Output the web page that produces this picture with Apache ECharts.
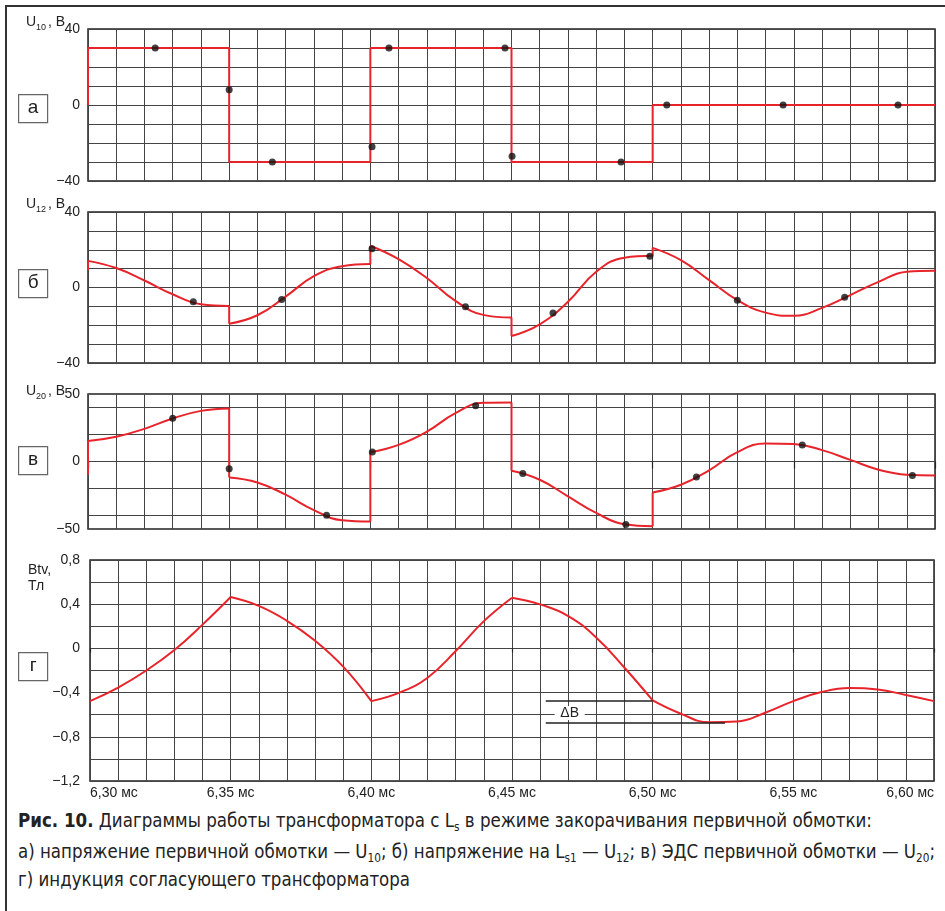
<!DOCTYPE html>
<html>
<head>
<meta charset="utf-8">
<script src="https://cdn.jsdelivr.net/npm/echarts@6/dist/echarts.min.js"></script>
<style>
html, body { margin: 0; padding: 0; background: #fff; }
#wrap { position: relative; width: 945px; height: 911px; overflow: hidden; }
#frame { position: absolute; left: 5px; top: 5px; width: 1000px; height: 1000px; border-left: 2px solid #333; border-top: 2px solid #333; }
#chart { position: absolute; left: 0; top: 0; width: 945px; height: 805px; }
.cap { position: absolute; left: 18px; white-space: nowrap; font-family: "Liberation Sans Narrow", "DejaVu Sans Condensed", sans-serif; font-size: 19px; line-height: 24px; color: #222; transform-origin: 0 50%; }
.cap b { font-weight: bold; }
.cap sub { font-size: 12px; vertical-align: -4px; line-height: 0; }
</style>
</head>
<body>
<div id="wrap">
  <div id="frame"></div>
  <div id="chart"></div>
  <div class="cap" data-w="854" style="top:808px"><b>Рис. 10.</b> Диаграммы работы трансформатора с L<sub>s</sub> в режиме закорачивания первичной обмотки:</div>
  <div class="cap" data-w="917" style="top:839px">а) напряжение первичной обмотки — U<sub>10</sub>; б) напряжение на L<sub>s1</sub> — U<sub>12</sub>; в) ЭДС первичной обмотки — U<sub>20</sub>;</div>
  <div class="cap" style="top:867px">г) индукция согласующего трансформатора</div>
</div>
<script>
// --- данные (время в мс) ---
const u10Line = [[6.30, 0], [6.30, 30], [6.35, 30], [6.35, -30], [6.40, -30], [6.40, 30],
  [6.45, 30], [6.45, -30], [6.50, -30], [6.50, 0], [6.60, 0]];
const u10Dots = [[6.3238, 30], [6.35, 8], [6.3653, -30], [6.4006, -22], [6.4066, 30], [6.4477, 30],
  [6.4502, -27], [6.4888, -30], [6.505, 0], [6.5462, 0], [6.5869, 0]];

const u12Segments = [
  [[6.30, 9.2]],
  [[6.30, 14.1], [6.31, 10.3], [6.32, 3.7], [6.33, -3.6], [6.34, -8.9], [6.35, -9.8]],
  [[6.35, -19.2], [6.36, -14.7], [6.37, -4.8], [6.38, 6], [6.39, 11.3], [6.40, 12.4]],
  [[6.40, 22.1], [6.41, 15], [6.42, 5], [6.43, -7], [6.44, -14.5], [6.45, -15.9]],
  [[6.45, -25.7], [6.46, -19.5], [6.47, -7.6], [6.48, 8.3], [6.49, 15.8], [6.50, 16.8]],
  [[6.50, 21], [6.51, 14.5], [6.52, 3.9], [6.53, -6.7], [6.54, -13.3], [6.55, -15], [6.56, -10.8],
    [6.57, -4], [6.58, 3], [6.59, 8.4], [6.60, 8.9]]
];
const u12Dots = [[6.3373, -7.6], [6.3686, -6.4], [6.4006, 20.5], [6.4337, -10.2], [6.4647, -13.5],
  [6.499, 16.6], [6.53, -6.7], [6.568, -5.1]];

const u20Segments = [
  [[6.30, -9.8]],
  [[6.30, 15.2], [6.31, 18.4], [6.32, 24.2], [6.33, 31.9], [6.34, 37.5], [6.35, 39.3]],
  [[6.35, -11.8], [6.36, -15.5], [6.37, -24.6], [6.38, -36], [6.39, -43.5], [6.40, -44.4]],
  [[6.40, 6.8], [6.41, 12.3], [6.42, 22.1], [6.43, 35.6], [6.44, 43.5], [6.45, 43.7]],
  [[6.45, -6.9], [6.46, -13.5], [6.47, -25.8], [6.48, -38.1], [6.49, -46.5], [6.50, -47.9]],
  [[6.50, -22.9], [6.51, -17.2], [6.52, -6.5], [6.53, 7], [6.54, 13.3], [6.55, 12.9], [6.56, 8.4],
    [6.57, 1.2], [6.58, -6.1], [6.59, -9.8], [6.60, -10.3]]
];
const u20Dots = [[6.33, 32], [6.35, -5.4], [6.3845, -39.8], [6.4007, 7.1], [6.4373, 41.3], [6.454, -8.8],
  [6.4905, -46.7], [6.5155, -11.5], [6.553, 12.3], [6.592, -10.3]];

const btvSegments = [
  [[6.30, -0.477], [6.31, -0.354], [6.32, -0.2], [6.33, -0.015], [6.34, 0.215], [6.35, 0.465]],
  [[6.35, 0.465], [6.36, 0.385], [6.37, 0.25], [6.38, 0.07], [6.39, -0.165], [6.40, -0.477]],
  [[6.40, -0.477], [6.41, -0.4], [6.42, -0.265], [6.43, -0.024], [6.44, 0.247], [6.45, 0.459]],
  [[6.45, 0.459], [6.46, 0.398], [6.47, 0.293], [6.48, 0.097], [6.49, -0.175], [6.50, -0.471]],
  [[6.50, -0.471], [6.51, -0.591], [6.52, -0.668], [6.53, -0.662], [6.54, -0.582], [6.55, -0.477],
    [6.56, -0.395], [6.57, -0.359], [6.58, -0.371], [6.59, -0.422], [6.60, -0.477]]
];
const deltaBLines = [[[6.462, -0.474], [6.500, -0.474]], [[6.462, -0.673], [6.5257, -0.673]]];
const deltaBLabel = [6.4705, -0.585];

const xLabelTicks = [6.30, 6.35, 6.40, 6.45, 6.50, 6.55, 6.60];
const yLabelsA = [-40, 0, 40];
const yLabelsB = [-40, 0, 40];
const yLabelsV = [-50, 0, 50];
const yLabelsG = [-1.2, -0.8, -0.4, 0, 0.4, 0.8];

const RED = '#e8242b';
const GRID = '#444';
const FONT = '"Liberation Sans", Arial, sans-serif';

const fmt = v => (v < 0 ? '\u2212' : '') + String(Math.abs(Math.round(v * 100) / 100)).replace('.', ',');
const has = (list, v) => list.some(l => Math.abs(l - v) < 1e-6);

const grids = [
  { left: 88, right: 10, top: 29, height: 152 },
  { left: 88, right: 10, top: 212, height: 151 },
  { left: 88, right: 10, top: 394, height: 135 },
  { left: 90, right: 11, top: 560, height: 221 }
].map(g => Object.assign({ show: true, borderColor: '#222', borderWidth: 1.5, backgroundColor: '#fff' }, g));

function xAxisFor(i, tickLen, labels) {
  return {
    type: 'value', gridIndex: i, min: 6.3, max: 6.6, interval: 0.05,
    axisLine: { show: false },
    axisTick: { show: tickLen > 0, length: tickLen, lineStyle: { color: '#222', width: 1.2 } },
    axisLabel: {
      show: labels, margin: 5, color: '#222', fontSize: 14, fontFamily: FONT,
      alignMinLabel: 'left', alignMaxLabel: 'right',
      formatter: v => has(xLabelTicks, v) ? v.toFixed(2).replace('.', ',') + ' мс' : ''
    },
    splitLine: { show: true, lineStyle: { color: GRID, width: 1 } },
    minorTick: { show: false, splitNumber: 5 },
    minorSplitLine: { show: true, lineStyle: { color: GRID, width: 1 } }
  };
}

function yAxisFor(i, min, max, interval, labels, colors, margin) {
  return {
    type: 'value', gridIndex: i, min: min, max: max, interval: interval,
    axisLine: { show: false }, axisTick: { show: false },
    axisLabel: {
      margin: margin, color: '#222', fontSize: 14, fontFamily: FONT,
      showMinLabel: true, showMaxLabel: true,
      formatter: v => has(labels, v) ? fmt(v) : ''
    },
    splitLine: { show: true, lineStyle: { color: colors || GRID, width: 1.2 } }
  };
}

const series = [];
function lineSeries(g, data, smooth) {
  return {
    type: 'line', xAxisIndex: g, yAxisIndex: g, data: data, smooth: smooth ? 0.45 : false,
    symbol: 'none', lineStyle: { color: RED, width: 2 }, silent: true, z: 3
  };
}
function addCurve(g, segments) {
  segments.forEach((seg, k) => {
    if (k > 0) {
      const prev = segments[k - 1];
      series.push(lineSeries(g, [prev[prev.length - 1], seg[0]], false));
    }
    if (seg.length > 1) series.push(lineSeries(g, seg, true));
  });
}
function addDots(g, dots) {
  series.push({
    type: 'scatter', xAxisIndex: g, yAxisIndex: g, data: dots, symbolSize: 7,
    itemStyle: { color: '#111' }, silent: true, z: 5
  });
}

series.push(lineSeries(0, u10Line, false));
addDots(0, u10Dots);
addCurve(1, u12Segments);
addDots(1, u12Dots);
addCurve(2, u20Segments);
addDots(2, u20Dots);
addCurve(3, btvSegments);
series.push({
  type: 'scatter', xAxisIndex: 3, yAxisIndex: 3, data: [], silent: true, z: 4,
  markLine: {
    silent: true, symbol: ['none', 'none'], label: { show: false }, animation: false,
    lineStyle: { color: '#222', width: 1.5, type: 'solid' },
    data: deltaBLines.map(l => [{ coord: l[0] }, { coord: l[1] }])
  },
  markPoint: {
    silent: true, symbol: 'rect', symbolSize: [30, 14], itemStyle: { color: '#fff' },
    label: { show: true, formatter: 'ΔB', color: '#222', fontSize: 14, fontFamily: FONT },
    data: [{ coord: deltaBLabel }]
  }
});

// подписи осей и буквы панелей
const titleParts = [
  { x: 26, y: 15, t: 'U', s: 14 }, { x: 36, y: 23, t: '10', s: 9 }, { x: 48, y: 15, t: ', B', s: 14 },
  { x: 26, y: 197, t: 'U', s: 14 }, { x: 36, y: 205, t: '12', s: 9 }, { x: 48, y: 197, t: ', B', s: 14 },
  { x: 26, y: 384, t: 'U', s: 14 }, { x: 36, y: 392, t: '20', s: 9 }, { x: 48, y: 384, t: ', B', s: 14 },
  { x: 28, y: 563, t: 'Btv,', s: 14 }, { x: 28, y: 579, t: 'Тл', s: 14 }
];
const panelBoxes = [
  { y: 94, t: 'а' }, { y: 269, t: 'б' }, { y: 446, t: 'в' }, { y: 652, t: 'г' }
];

const graphic = titleParts.map(p => ({
  type: 'text', left: p.x, top: p.y, silent: true,
  style: { text: p.t, fontSize: p.s, fontFamily: FONT, fill: '#222' }
})).concat(panelBoxes.map(b => ({
  type: 'group', left: 18, top: b.y, silent: true,
  children: [
    { type: 'rect', shape: { x: 0, y: 0, width: 29, height: 28 }, style: { fill: '#fff', stroke: '#666', lineWidth: 1.2 } },
    { type: 'text', style: { x: 14.5, y: 13, text: b.t, fontSize: 19, fontFamily: FONT, fill: '#222', align: 'center', verticalAlign: 'middle' } }
  ]
})));

const chart = echarts.init(document.getElementById('chart'));
chart.setOption({
  animation: false,
  grid: grids,
  xAxis: [xAxisFor(0, 0, false), xAxisFor(1, 0, false), xAxisFor(2, 7, false), xAxisFor(3, 4, true)],
  yAxis: [
    yAxisFor(0, -40, 40, 10, yLabelsA, null, 8),
    yAxisFor(1, -40, 40, 10, yLabelsB, null, 8),
    yAxisFor(2, -50, 50, 10, yLabelsV, ['transparent', GRID], 8),
    yAxisFor(3, -1.2, 0.8, 0.2, yLabelsG, null, 10)
  ],
  series: series,
  graphic: graphic
});

// подгонка ширины строк подписи; последняя строка берёт масштаб предыдущей
let lastScale = 1;
document.querySelectorAll('.cap').forEach(el => {
  const w = el.getBoundingClientRect().width;
  if (el.dataset.w && w > 0) lastScale = +el.dataset.w / w;
  el.style.transform = 'scaleX(' + lastScale + ')';
});
</script>
</body>
</html>
